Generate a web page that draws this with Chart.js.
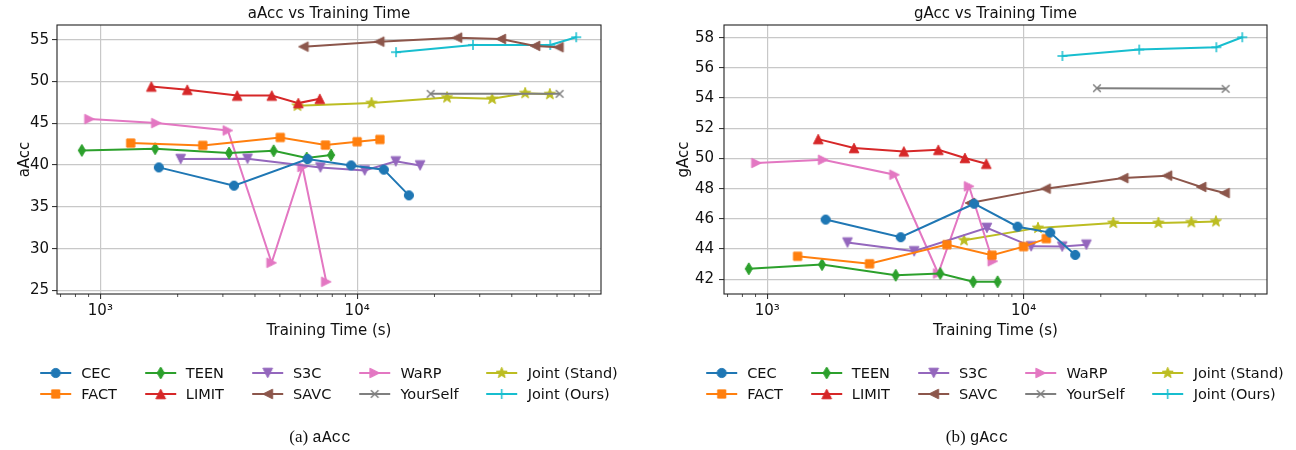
<!DOCTYPE html>
<html>
<head>
<meta charset="utf-8">
<script src="https://cdn.jsdelivr.net/npm/chart.js@4"></script>
<style>
  html, body { margin: 0; padding: 0; background: #fff; }
  body { width: 1296px; height: 450px; position: relative; overflow: hidden; font-family: 'DejaVu Sans', sans-serif; }
  canvas.panel { position: absolute; top: 0; }
  .legend { position: absolute; top: 362px; display: grid; grid-auto-flow: column; grid-template-rows: 21px 21px; column-gap: 28px; transform: translateX(-50%); font-size: 14.5px; color: #111; }
  .item { display: flex; align-items: center; white-space: nowrap; }
  .item canvas { margin-right: 10px; }
  .caption { position: absolute; top: 427px; line-height: 20px; transform: translateX(-50%); font-family: 'Liberation Serif', serif; font-size: 17px; color: #111; white-space: nowrap; }
  .caption span { font-family: 'Liberation Mono', monospace; font-size: 16px; }
</style>
</head>
<body>
<canvas id="chartA" class="panel" width="648" height="345" style="left:0"></canvas>
<canvas id="chartG" class="panel" width="648" height="345" style="left:648px"></canvas>
<div id="legendA" class="legend" style="left:329px"></div>
<div id="legendG" class="legend" style="left:995px"></div>
<div class="caption" style="left:320px">(a) <span>aAcc</span></div>
<div class="caption" style="left:977px">(b) <span>gAcc</span></div>
<script>
// methods, in the order matplotlib plotted them
var methods = ['CEC', 'FACT', 'TEEN', 'LIMIT', 'S3C', 'SAVC', 'WaRP', 'YourSelf', 'Joint (Stand)', 'Joint (Ours)'];
var colors = ['#1f77b4', '#ff7f0e', '#2ca02c', '#d62728', '#9467bd', '#8c564b', '#e377c2', '#7f7f7f', '#bcbd22', '#17becf'];
var markers = ['o', 's', 'd', '^', 'v', '<', '>', 'x', '*', '+'];

// training time (s), one list per method
var trainTime = [
  [1690, 3315, 6410, 9475, 12700, 15900],
  [1313, 2505, 5020, 7525, 10000, 12260],
  [847, 1635, 3170, 4730, 6360, 7915],
  [1580, 2180, 3410, 4650, 5900, 7150],
  [2055, 3742, 7190, 10700, 14140, 17580],
  [6175, 12185, 24480, 36250, 49300, 60800],
  [907, 1652, 3137, 4644, 6127, 7580],
  [19330, 61400],
  [5856, 11375, 22380, 33550, 45100, 56250],
  [14170, 28240, 56460, 71260]
];

var aAcc = [
  [39.72, 37.54, 40.72, 39.96, 39.45, 36.38],
  [42.63, 42.35, 43.30, 42.39, 42.79, 43.06],
  [41.75, 41.96, 41.44, 41.71, 40.84, 41.20],
  [49.39, 49.00, 48.31, 48.31, 47.41, 47.92],
  [40.72, 40.76, 39.72, 39.36, 40.44, 39.96],
  [54.16, 54.76, 55.24, 55.08, 54.25, 54.09],
  [45.50, 45.02, 44.14, 28.31, 39.77, 26.04],
  [48.52, 48.52],
  [47.09, 47.41, 48.08, 47.92, 48.60, 48.48],
  [53.50, 54.37, 54.37, 55.29]
];

var gAcc = [
  [45.95, 44.78, 47.00, 45.48, 45.09, 43.61],
  [43.52, 43.02, 44.29, 43.59, 44.16, 44.69],
  [42.69, 42.97, 42.26, 42.38, 41.83, 41.83],
  [51.28, 50.69, 50.46, 50.57, 50.03, 49.65],
  [44.43, 43.85, 45.40, 44.18, 44.16, 44.29],
  [47.05, 48.00, 48.70, 48.86, 48.11, 47.71],
  [49.70, 49.91, 48.92, 42.38, 48.15, 43.19],
  [54.65, 54.61],
  [44.58, 45.40, 45.73, 45.73, 45.77, 45.83],
  [56.79, 57.21, 57.37, 58.03]
];

var xMajorTicks = [1000, 10000];
var xTickLabels = ['10³', '10⁴'];
var yTicksA = [25, 30, 35, 40, 45, 50, 55];
var yTicksG = [42, 44, 46, 48, 50, 52, 54, 56, 58];

var xMin = 678, xMax = 89000;
var xMinorTicks = [];
[100, 1000, 10000].forEach(function (d) {
  for (var k = 2; k <= 9; k++) {
    if (d * k > xMin && d * k < xMax) xMinorTicks.push(d * k);
  }
});

Chart.defaults.font.family = "'DejaVu Sans', sans-serif";
Chart.defaults.color = '#111';

function drawMarker(ctx, shape, color, x, y) {
  ctx.save();
  ctx.translate(x, y);
  ctx.fillStyle = color;
  ctx.strokeStyle = color;
  ctx.lineWidth = 1;
  ctx.beginPath();
  if (shape == 'o') {
    ctx.arc(0, 0, 4.6, 0, Math.PI * 2);
  } else if (shape == 's') {
    ctx.rect(-4.1, -4.1, 8.2, 8.2);
  } else if (shape == 'd') {
    ctx.moveTo(0, -6); ctx.lineTo(3.6, 0); ctx.lineTo(0, 6); ctx.lineTo(-3.6, 0); ctx.closePath();
  } else if ('^v<>'.indexOf(shape) >= 0) {
    ctx.rotate({'^': 0, '>': 0.5, 'v': 1, '<': 1.5}[shape] * Math.PI);
    ctx.moveTo(0, -4.8); ctx.lineTo(4.8, 4.8); ctx.lineTo(-4.8, 4.8); ctx.closePath();
  } else if (shape == '*') {
    for (var i = 0; i < 10; i++) {
      var r = i % 2 ? 2.4 : 5.8;
      var a = -Math.PI / 2 + i * Math.PI / 5;
      ctx.lineTo(r * Math.cos(a), r * Math.sin(a));
    }
    ctx.closePath();
  }
  if (shape == 'x' || shape == '+') {
    ctx.lineWidth = 1.5;
    var h = shape == 'x' ? 3.8 : 5;
    if (shape == 'x') {
      ctx.moveTo(-h, -h); ctx.lineTo(h, h); ctx.moveTo(-h, h); ctx.lineTo(h, -h);
    } else {
      ctx.moveTo(-h, 0); ctx.lineTo(h, 0); ctx.moveTo(0, -h); ctx.lineTo(0, h);
    }
    ctx.stroke();
  } else {
    ctx.fill();
    ctx.stroke();
  }
  ctx.restore();
}

function markerImage(shape, color) {
  var c = document.createElement('canvas');
  c.width = 18; c.height = 18;
  drawMarker(c.getContext('2d'), shape, color, 9, 9);
  return c;
}

// frame, minor x ticks and the centred title
var framePlugin = {
  id: 'frame',
  afterDraw: function (chart, args, opts) {
    var ctx = chart.ctx, a = chart.chartArea, x = chart.scales.x;
    ctx.save();
    ctx.strokeStyle = '#222';
    ctx.lineWidth = 0.8;
    xMinorTicks.forEach(function (v) {
      var px = x.getPixelForValue(v);
      ctx.beginPath();
      ctx.moveTo(px, a.bottom);
      ctx.lineTo(px, a.bottom + 3);
      ctx.stroke();
    });
    ctx.lineWidth = 1.1;
    ctx.strokeRect(a.left, a.top, a.right - a.left, a.bottom - a.top);
    ctx.fillStyle = '#111';
    ctx.font = "15px 'DejaVu Sans'";
    ctx.textAlign = 'center';
    ctx.textBaseline = 'alphabetic';
    ctx.fillText(opts.text, (a.left + a.right) / 2, 17.5);
    ctx.restore();
  }
};

function makeChart(id, values, yTicks, yMin, yMax, yTitle, title, yWidth, padRight, yTitlePad, yTickPad) {
  var tickFont = {size: 15};
  var datasets = methods.map(function (name, i) {
    return {
      label: name,
      data: trainTime[i].map(function (t, j) { return {x: t, y: values[i][j]}; }),
      borderColor: colors[i],
      backgroundColor: colors[i],
      borderWidth: 2,
      pointStyle: markerImage(markers[i], colors[i]),
      pointRadius: 5,
      tension: 0,
      fill: false
    };
  });

  return new Chart(document.getElementById(id), {
    type: 'line',
    data: {datasets: datasets},
    plugins: [framePlugin],
    options: {
      responsive: false,
      animation: false,
      layout: {padding: {top: 25, right: padRight, left: 0, bottom: 0}},
      plugins: {
        legend: {display: false},
        tooltip: {enabled: false},
        frame: {text: title}
      },
      scales: {
        x: {
          type: 'logarithmic',
          min: xMin,
          max: xMax,
          afterBuildTicks: function (s) {
            s.ticks = xMajorTicks.map(function (v) { return {value: v, major: true}; });
          },
          afterFit: function (s) { s.height = 51; },
          ticks: {
            font: tickFont, color: '#111', padding: 3, autoSkip: false, maxRotation: 0,
            callback: function (v) { return xTickLabels[xMajorTicks.indexOf(v)]; }
          },
          grid: {color: '#c8c8c8', lineWidth: 1.2, tickColor: '#222', tickLength: 5, tickWidth: 1},
          border: {display: false},
          title: {display: true, text: 'Training Time (s)', font: tickFont, color: '#111', padding: {top: 0, bottom: 4.5}}
        },
        y: {
          min: yMin,
          max: yMax,
          afterBuildTicks: function (s) {
            s.ticks = yTicks.map(function (v) { return {value: v}; });
          },
          afterFit: function (s) { s.width = yWidth; },
          ticks: {font: tickFont, color: '#111', padding: yTickPad},
          grid: {color: '#c8c8c8', lineWidth: 1.2, tickColor: '#222', tickLength: 5, tickWidth: 1},
          border: {display: false},
          title: {display: true, text: yTitle, font: tickFont, color: '#111', padding: {top: yTitlePad, bottom: 0}}
        }
      }
    }
  });
}

function buildLegend(id) {
  var box = document.getElementById(id);
  methods.forEach(function (name, i) {
    var item = document.createElement('div');
    item.className = 'item';
    var c = document.createElement('canvas');
    c.width = 31; c.height = 18;
    var ctx = c.getContext('2d');
    ctx.strokeStyle = colors[i];
    ctx.lineWidth = 2;
    ctx.beginPath();
    ctx.moveTo(0, 9);
    ctx.lineTo(31, 9);
    ctx.stroke();
    drawMarker(ctx, markers[i], colors[i], 15.5, 9);
    item.appendChild(c);
    var label = document.createElement('span');
    label.textContent = name;
    item.appendChild(label);
    box.appendChild(item);
  });
}

makeChart('chartA', aAcc, yTicksA, 24.58, 56.75, 'aAcc', 'aAcc vs Training Time', 57, 47, 16, 3);
makeChart('chartG', gAcc, yTicksG, 41.02, 58.84, 'gAcc', 'gAcc vs Training Time', 76, 29, 27, 5);
buildLegend('legendA');
buildLegend('legendG');
</script>
</body>
</html>
